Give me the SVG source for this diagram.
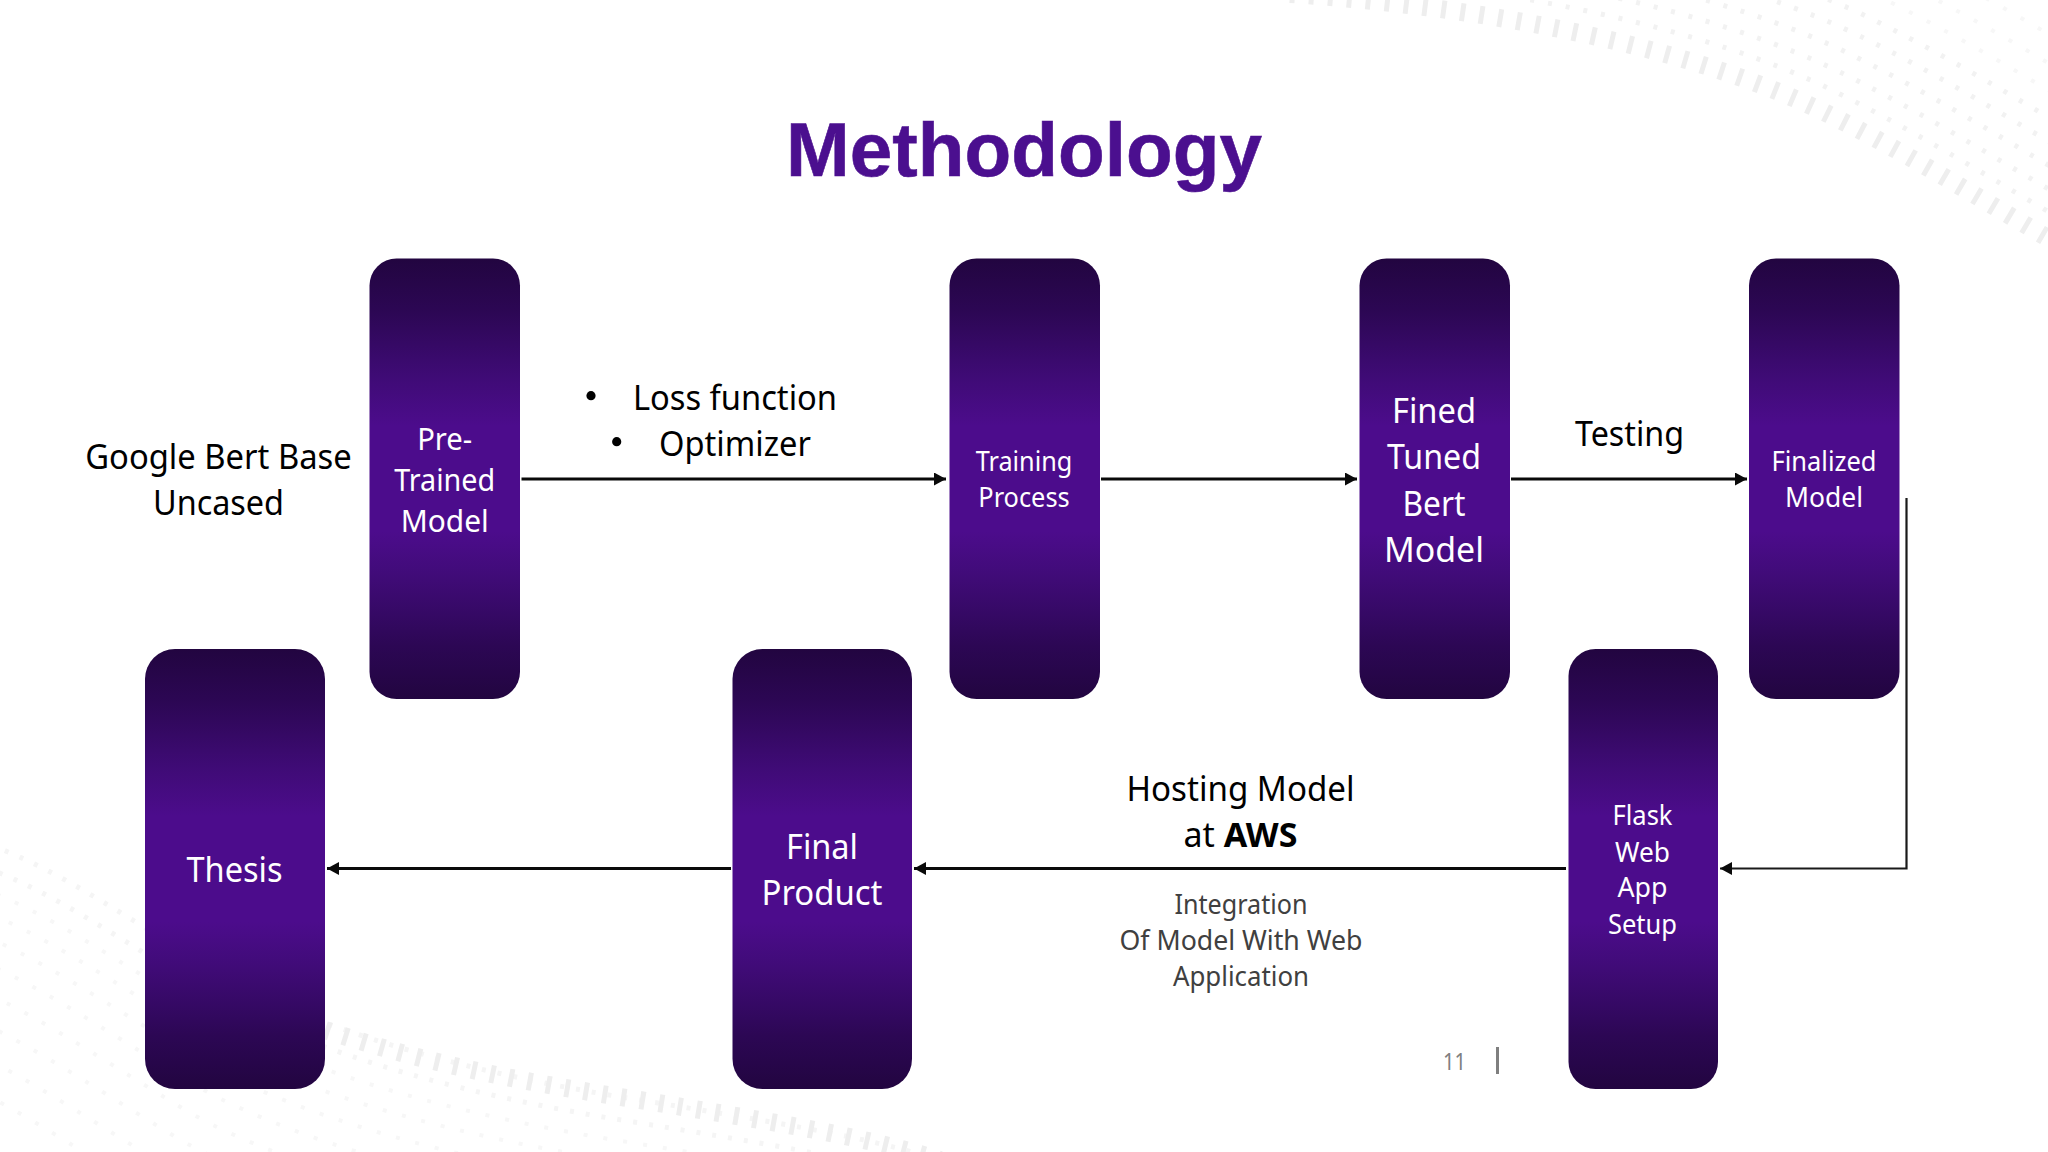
<svg xmlns="http://www.w3.org/2000/svg" xmlns:xlink="http://www.w3.org/1999/xlink" width="2048" height="1152" viewBox="0 0 2048 1152">
<style>
text{font-family:"Noto Sans","Open Sans","Liberation Sans",sans-serif;text-anchor:middle}
.box{fill:url(#glow)}
.w{fill:#fff}
.k{fill:#000}
.g{fill:#404040}
.s34{font-size:34.5px}
.s31{font-size:31px}
.s27{font-size:27px}
.line{stroke:#0a0a0a;stroke-width:3.2;fill:none}
.thin{stroke:#1a1a1a;stroke-width:2.2;fill:none}
.tick{fill:none;stroke:#eeeeee;stroke-width:18;stroke-dasharray:5 14}
.dot{fill:none;stroke:#f2f2f2;stroke-width:5;stroke-dasharray:4 14}
.far{fill:none;stroke:#f7f7f7;stroke-width:4;stroke-dasharray:4 16}
.faint{fill:none;stroke:#f5f5f5;stroke-width:5;stroke-dasharray:4 12}
</style>
<defs>
<linearGradient id="glow" x1="0" y1="0" x2="0" y2="1">
<stop offset="0" stop-color="#220540"/>
<stop offset="0.12" stop-color="#2c0754"/>
<stop offset="0.27" stop-color="#3f0b76"/>
<stop offset="0.38" stop-color="#4c0c8c"/>
<stop offset="0.62" stop-color="#4c0c8c"/>
<stop offset="0.73" stop-color="#3f0b76"/>
<stop offset="0.88" stop-color="#2c0754"/>
<stop offset="1" stop-color="#220540"/>
</linearGradient>
<marker id="arrow" markerUnits="userSpaceOnUse" markerWidth="12" markerHeight="13" refX="12" refY="6.5" orient="auto">
<path d="M0 0L12 6.5L0 13Z" fill="#0a0a0a"/>
</marker>
<path id="waveA" d="M1290 -6C1500 8 1700 50 1830 115C1920 160 1990 205 2060 245"/>
<path id="waveB" d="M325 1030C430 1065 530 1083 640 1100C760 1120 860 1135 940 1160"/>
<path id="waveL" d="M-10 845C60 870 130 920 230 980C330 1035 480 1075 640 1100C760 1120 860 1135 940 1160"/>
</defs>
<rect width="2048" height="1152" fill="#fff"/>
<g id="background">
<use href="#waveA" class="tick"/>
<use href="#waveA" class="dot" transform="translate(8 -22)"/>
<use href="#waveA" class="dot" transform="translate(16 -40)" stroke-dashoffset="8"/>
<use href="#waveA" class="dot" transform="translate(26 -58)"/>
<use href="#waveA" class="dot" transform="translate(36 -76)" stroke-dashoffset="8"/>
<use href="#waveA" class="dot" transform="translate(46 -94)"/>
<use href="#waveA" class="far" transform="translate(58 -114)"/>
<use href="#waveA" class="far" transform="translate(70 -134)"/>
<use href="#waveA" class="far" transform="translate(82 -156)"/>
<use href="#waveA" class="far" transform="translate(94 -180)"/>
<use href="#waveL" class="faint"/>
<use href="#waveL" class="faint" transform="translate(-6 22)"/>
<use href="#waveL" class="far" transform="translate(-12 42)"/>
<use href="#waveL" class="far" transform="translate(-18 62)"/>
<use href="#waveL" class="far" transform="translate(-24 84)"/>
<use href="#waveL" class="far" transform="translate(-30 108)"/>
<use href="#waveL" class="far" transform="translate(-38 134)"/>
<use href="#waveL" class="far" transform="translate(-46 162)"/>
<use href="#waveL" class="far" transform="translate(-54 192)"/>
<use href="#waveL" class="far" transform="translate(-62 224)"/>
<use href="#waveB" class="tick"/>
</g>
<text x="1024" y="176" style="font-family:'Liberation Sans',Arial,sans-serif;font-weight:700;font-size:76.5px;fill:#4b0f8f;stroke:#4b0f8f;stroke-width:0.6">Methodology</text>
<g id="connectors">
<path class="line" marker-end="url(#arrow)" d="M521.5 479H946"/>
<path class="line" marker-end="url(#arrow)" d="M1101 479H1357"/>
<path class="line" marker-end="url(#arrow)" d="M1511 479H1747"/>
<path class="thin" marker-end="url(#arrow)" d="M1906.5 498V868.5H1720"/>
<path class="line" marker-end="url(#arrow)" d="M1566 868.5H914"/>
<path class="line" marker-end="url(#arrow)" d="M731 868.5H327"/>
</g>
<g id="node-google-bert">
<text class="k s34" x="218.5" y="469" textLength="266.5" lengthAdjust="spacingAndGlyphs">Google Bert Base</text>
<text class="k s34" x="218.5" y="515" textLength="131" lengthAdjust="spacingAndGlyphs">Uncased</text>
</g>
<g id="node-pretrained">
<rect class="box" x="369.5" y="258.5" width="150.5" height="440.5" rx="27"/>
<text class="w s31" x="444.7" y="450" textLength="55" lengthAdjust="spacingAndGlyphs">Pre-</text>
<text class="w s31" x="444.7" y="491" textLength="101" lengthAdjust="spacingAndGlyphs">Trained</text>
<text class="w s31" x="444.7" y="532" textLength="88" lengthAdjust="spacingAndGlyphs">Model</text>
</g>
<g id="label-loss">
<circle class="k" cx="591" cy="395.7" r="4.6"/>
<text class="k s34" x="735" y="409.5" textLength="204" lengthAdjust="spacingAndGlyphs">Loss function</text>
<circle class="k" cx="616.7" cy="441.7" r="4.6"/>
<text class="k s34" x="735" y="455.5" textLength="152" lengthAdjust="spacingAndGlyphs">Optimizer</text>
</g>
<g id="node-training">
<rect class="box" x="949.5" y="258.5" width="150.5" height="440.5" rx="27"/>
<text class="w s27" x="1024" y="471" textLength="96.6" lengthAdjust="spacingAndGlyphs">Training</text>
<text class="w s27" x="1024" y="507" textLength="91.4" lengthAdjust="spacingAndGlyphs">Process</text>
</g>
<g id="node-fined">
<rect class="box" x="1359.5" y="258.5" width="150.5" height="440.5" rx="27"/>
<text class="w s34" x="1434" y="423" textLength="84" lengthAdjust="spacingAndGlyphs">Fined</text>
<text class="w s34" x="1434" y="469" textLength="94" lengthAdjust="spacingAndGlyphs">Tuned</text>
<text class="w s34" x="1434" y="515.5" textLength="63" lengthAdjust="spacingAndGlyphs">Bert</text>
<text class="w s34" x="1434" y="561.5" textLength="100" lengthAdjust="spacingAndGlyphs">Model</text>
</g>
<text class="k s34" x="1629.5" y="445.5" textLength="109" lengthAdjust="spacingAndGlyphs">Testing</text>
<g id="node-finalized">
<rect class="box" x="1749" y="258.5" width="150.5" height="440.5" rx="27"/>
<text class="w s27" x="1824" y="471" textLength="105" lengthAdjust="spacingAndGlyphs">Finalized</text>
<text class="w s27" x="1824" y="507" textLength="78" lengthAdjust="spacingAndGlyphs">Model</text>
</g>
<g id="node-thesis">
<rect class="box" x="145" y="649" width="180" height="440" rx="30"/>
<text class="w s34" x="234.5" y="882" textLength="96" lengthAdjust="spacingAndGlyphs">Thesis</text>
</g>
<g id="node-final">
<rect class="box" x="732.5" y="649" width="179.5" height="440" rx="30"/>
<text class="w s34" x="822" y="859" textLength="72" lengthAdjust="spacingAndGlyphs">Final</text>
<text class="w s34" x="822" y="904.5" textLength="121" lengthAdjust="spacingAndGlyphs">Product</text>
</g>
<g id="node-flask">
<rect class="box" x="1568.5" y="649" width="149.5" height="440" rx="27"/>
<text class="w s27" x="1642.5" y="825" textLength="60" lengthAdjust="spacingAndGlyphs">Flask</text>
<text class="w s27" x="1642.5" y="861.5" textLength="55" lengthAdjust="spacingAndGlyphs">Web</text>
<text class="w s27" x="1642.5" y="897" textLength="50" lengthAdjust="spacingAndGlyphs">App</text>
<text class="w s27" x="1642.5" y="933.5" textLength="69" lengthAdjust="spacingAndGlyphs">Setup</text>
</g>
<g id="label-hosting">
<text class="k s34" x="1240.5" y="800.5" textLength="228" lengthAdjust="spacingAndGlyphs">Hosting Model</text>
<text class="k s34" x="1240.5" y="847" textLength="114" lengthAdjust="spacingAndGlyphs">at <tspan font-weight="700">AWS</tspan></text>
</g>
<g id="label-integration">
<text class="g s27" x="1241" y="914" textLength="133" lengthAdjust="spacingAndGlyphs">Integration</text>
<text class="g s27" x="1241" y="950" textLength="243" lengthAdjust="spacingAndGlyphs">Of Model With Web</text>
<text class="g s27" x="1241" y="986" textLength="136" lengthAdjust="spacingAndGlyphs">Application</text>
</g>
<g id="page-number">
<text x="1454.5" y="1070" style="font-size:24px;fill:#7f7f7f" textLength="23" lengthAdjust="spacingAndGlyphs">11</text>
<rect x="1496" y="1047" width="3" height="27" fill="#7f7f7f"/>
</g>
</svg>
